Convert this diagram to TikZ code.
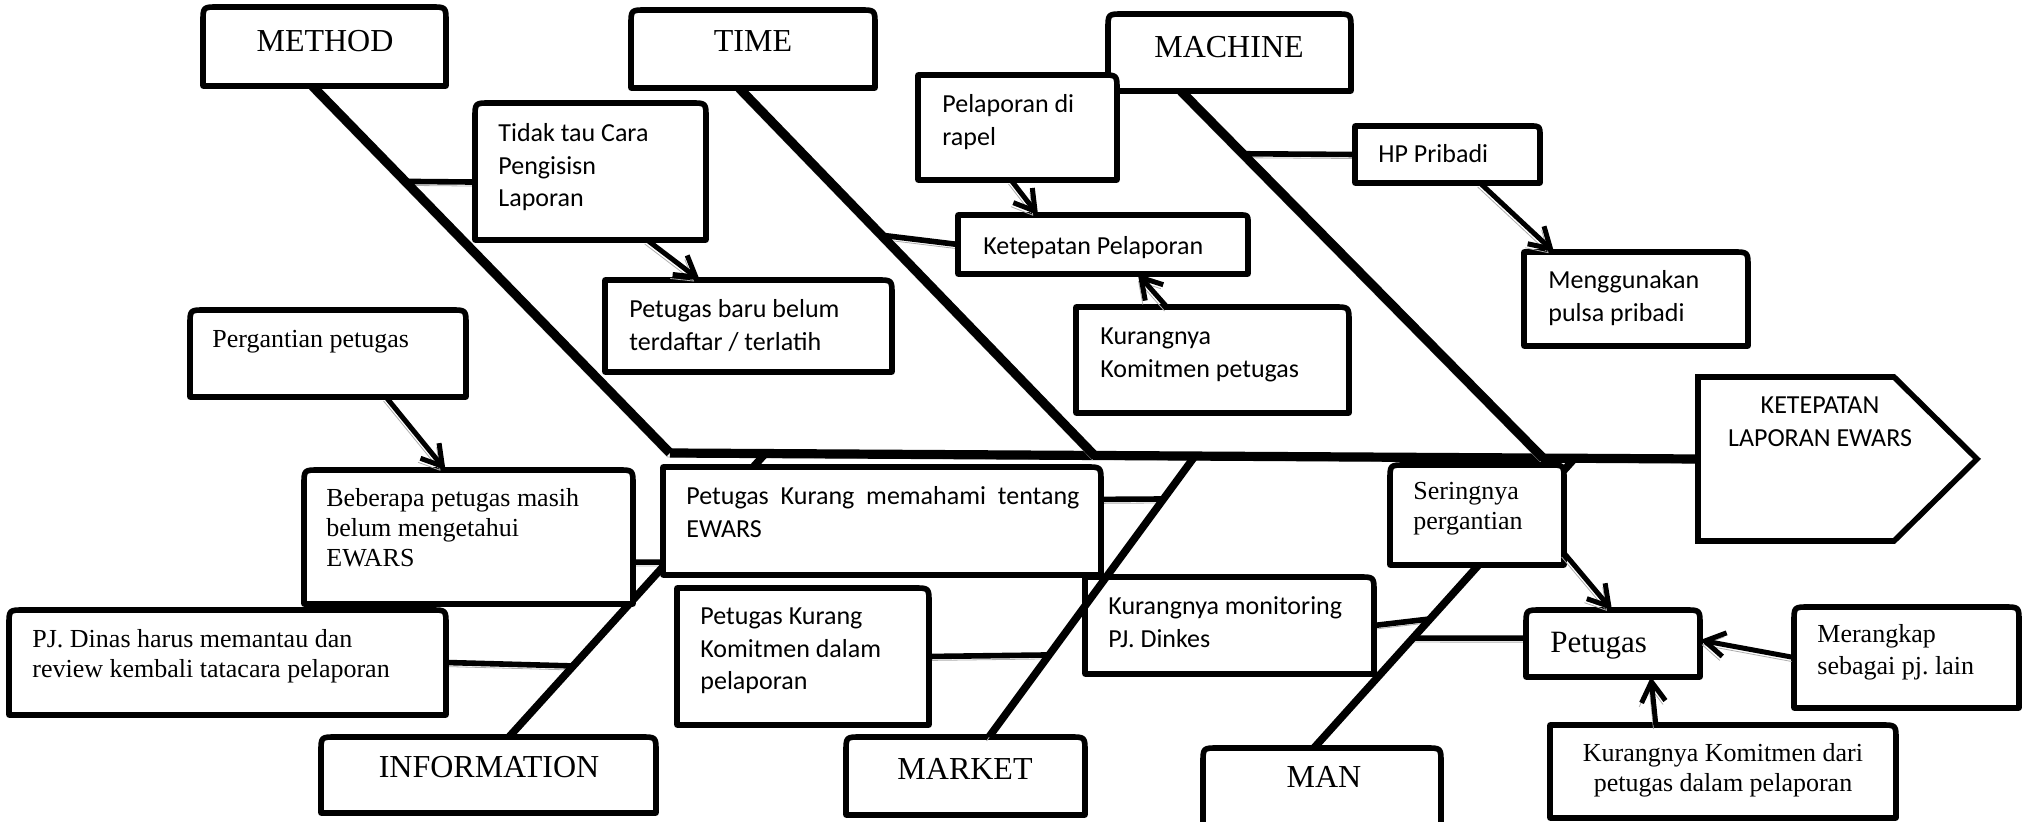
\documentclass[tikz,border=0pt]{standalone}
\usepackage{fontspec}
\setmainfont{Liberation Serif}
\newfontfamily\fSer{Liberation Serif}
\newfontfamily\fSan{Carlito}
\usetikzlibrary{calc,fit,arrows.meta}
\tikzset{
 cell/.style={inner sep=0pt,outer sep=0pt},
 boxline/.style={draw=black,fill=white,line width=2.8pt,line join=round},
 shad/.style={preaction={draw=black!32,transform canvas={shift={(-1.2pt,-2pt)}}}},
 spine/.style={line width=4.6pt,shad},
 bone/.style={line width=4.6pt,shad},
 lbone/.style={line width=3.8pt,shad},
 conn/.style={line width=2.8pt,shad},
 arr/.style={line width=2.5pt,shad,-{Straight Barb[length=10pt,width=12pt]}},
 ttl/.style={inner sep=0pt,anchor=base,font=\fSer\fontsize{16}{19}\selectfont},
 tser/.style={inner sep=0pt,anchor=base west,font=\fSer\fontsize{13}{15}\selectfont},
 tsan/.style={inner sep=0pt,anchor=base west,font=\fSan\fontsize{13}{16.25}\selectfont},
}
\newcommand\bxT[2][15]{\filldraw[boxline] (#2.south west) -- ($(#2.north west)+(0,#1)$) .. controls (#2.north west) .. ($(#2.north west)+(#1,0)$) -- ($(#2.north east)+(-#1,0)$) .. controls (#2.north east) .. ($(#2.north east)+(0,#1)$) -- (#2.south east) -- cycle;}
\newcommand\bxR[2][15]{\filldraw[boxline] (#2.south west) -- (#2.north west) -- ($(#2.north east)+(-#1,0)$) .. controls (#2.north east) .. ($(#2.north east)+(0,#1)$) -- (#2.south east) -- cycle;}
\begin{document}
\begin{tikzpicture}[x=0.5pt,y=-0.5pt]
\clip (0,0) rectangle (2025,822);
% ---------- box frames (nodes) ----------
\node[cell,fit={(203,7)(446,86)}] (method) {};
\node[cell,fit={(631,10)(875,88)}] (time) {};
\node[cell,fit={(1108,14)(1351,91)}] (mach) {};
\node[cell,fit={(475,103)(706,240)}] (tidak) {};
\node[cell,fit={(605,280)(892,372)}] (pbaru) {};
\node[cell,fit={(918,75)(1117,180)}] (rapel) {};
\node[cell,fit={(958,215)(1248,274)}] (kp) {};
\node[cell,fit={(1076,307)(1349,413)}] (kk) {};
\node[cell,fit={(1355,126)(1540,183)}] (hp) {};
\node[cell,fit={(1524,252)(1748,346)}] (mg) {};
\node[cell,fit={(190,310)(466,397)}] (pg) {};
\node[cell,fit={(304,470)(633,604)}] (bb) {};
\node[cell,fit={(663,467)(1101,575)}] (pm) {};
\node[cell,fit={(9,610)(446,715)}] (pj) {};
\node[cell,fit={(321,737)(656,813)}] (info) {};
\node[cell,fit={(677,588)(929,725)}] (pk) {};
\node[cell,fit={(846,737)(1085,815)}] (mkt) {};
\node[cell,fit={(1085,577)(1374,674)}] (km) {};
\node[cell,fit={(1203,748)(1441,845)}] (man) {};
\node[cell,fit={(1390,465)(1564,565)}] (sr) {};
\node[cell,fit={(1526,610)(1700,677)}] (pt) {};
\node[cell,fit={(1794,607)(2019,708)}] (mr) {};
\node[cell,fit={(1550,725)(1896,818)}] (kd) {};
% ---------- coordinates on the spine and bones ----------
\coordinate (jm) at (670,453);
\coordinate (ji) at (765,454);
\coordinate (jt) at (1095,456);
\coordinate (jk) at (1195,456);
\coordinate (jc) at (1543,458);
\coordinate (jn) at (1575,458);
\coordinate (kw) at (1698,459);
\coordinate (bm) at ($(method.south west)!0.45!(method.south east)$);
\coordinate (bt) at ($(time.south west)!0.443!(time.south east)$);
\coordinate (bc) at ($(mach.south west)!0.30!(mach.south east)$);
\coordinate (ie) at ($(info.north west)!0.561!(info.north east)$);
\coordinate (ke) at ($(mkt.north west)!0.598!(mkt.north east)$);
\coordinate (ne) at ($(man.north west)!0.466!(man.north east)$);
% ---------- connectors ----------
\draw[conn] ($(bm)!0.26!(jm)$) -- ($(tidak.north west)!0.577!(tidak.south west)$);
\draw[conn] ($(bt)!0.40!(jt)$) -- (kp.west);
\draw[conn] ($(bc)!0.171!(jc)$) -- (hp.west);
\draw[conn] ($(pm.north east)!0.3!(pm.south east)$) -- ($(jk)!0.153!(ke)$);
\draw[conn] ($(bb.north east)!0.687!(bb.south east)$) -- ($(ji)!0.382!(ie)$);
\draw[conn] (pj.east) -- ($(ji)!0.749!(ie)$);
\draw[conn] (pk.east) -- ($(jk)!0.708!(ke)$);
\draw[conn] (km.east) -- ($(jn)!0.555!(ne)$);
\draw[conn] ($(jn)!0.621!(ne)$) -- ($(pt.north west)!0.42!(pt.south west)$);
% ---------- bones ----------
\draw[spine] (jm) -- (kw);
\draw[bone] (bm) -- (jm);
\draw[bone] (bt) -- (jt);
\draw[bone] (bc) -- (jc);
\draw[lbone] (ji) -- (ie);
\draw[lbone] (jn) -- (ne);
% ---------- boxes ----------
\bxT{method}\bxT{time}\bxT{mach}\bxT{tidak}\bxR{pbaru}\bxR{rapel}\bxR[8]{kp}\bxR{kk}
\bxR[10]{hp}\bxR{mg}\bxT{pg}\bxT{bb}\bxR{pm}\bxT{pj}\bxT{info}\bxR{pk}\bxT{mkt}
\bxR{km}\bxT{man}\bxT{sr}\bxT{pt}\bxT{mr}\bxR{kd}
\filldraw[boxline,line join=miter] (kw |- 0,377) -- (1894,377) -- (1977,459) -- (1894,541) -- (kw |- 0,541) -- cycle;
% ---------- market bone (over the box corner) ----------
\draw[lbone] (jk) -- (ke);
% ---------- texts ----------
\node[ttl] (t-method) at (325,52) {METHOD};
\node[ttl] (t-time) at (753,52) {TIME};
\node[ttl] (t-mach) at (1229,58) {MACHINE};
\node[ttl] (t-info) at (489,778) {INFORMATION};
\node[ttl] (t-mkt) at (965,780) {MARKET};
\node[ttl] (t-man) at (1324,788) {MAN};
\node[tsan] (t-tidak) at (498,142) {\parbox[t]{150pt}{Tidak tau Cara\\Pengisisn\\Laporan}};
\node[tsan] (t-pbaru) at (629,318) {\parbox[t]{150pt}{Petugas baru belum\\terdaftar / terlatih}};
\node[tsan] (t-rapel) at (942,113) {\parbox[t]{150pt}{Pelaporan di\\rapel}};
\node[tsan] (t-kp) at (983,255) {Ketepatan Pelaporan};
\node[tsan] (t-kk) at (1100,345) {\parbox[t]{150pt}{Kurangnya\\Komitmen petugas}};
\node[tsan] (t-hp) at (1378,163) {HP Pribadi};
\node[tsan] (t-mg) at (1548,289) {\parbox[t]{150pt}{Menggunakan\\pulsa pribadi}};
\node[tsan] (t-pm) at (686,505) {\parbox[t]{250pt}{\makebox[196.5pt][s]{Petugas Kurang memahami tentang}\\EWARS}};
\node[tsan] (t-pk) at (700,625) {\parbox[t]{150pt}{Petugas Kurang\\Komitmen dalam\\pelaporan}};
\node[tsan] (t-km) at (1108,615) {\parbox[t]{150pt}{Kurangnya monitoring\\PJ. Dinkes}};
\node[tsan,anchor=base] (t-ket) at (1820,414) {\parbox[t]{150pt}{\centering KETEPATAN\\LAPORAN EWARS}};
\node[tser] (t-pg) at (212,348) {Pergantian petugas};
\node[tser] (t-bb) at (326,507) {\parbox[t]{200pt}{Beberapa petugas masih\\belum mengetahui\\EWARS}};
\node[tser] (t-pj) at (32,648) {\parbox[t]{250pt}{PJ. Dinas harus memantau dan\\review kembali tatacara pelaporan}};
\node[tser] (t-sr) at (1413,500) {\parbox[t]{150pt}{Seringnya\\pergantian}};
\node[tser,font=\fSer\fontsize{15.5}{18}\selectfont] (t-pt) at (1550,653) {Petugas};
\node[tser,font=\fSer\fontsize{13}{16}\selectfont] (t-mr) at (1817,643) {\parbox[t]{150pt}{Merangkap\\sebagai pj.\ lain}};
\node[tser,anchor=base] (t-kd) at (1723,762) {\parbox[t]{200pt}{\centering Kurangnya Komitmen dari\\petugas dalam pelaporan}};
% ---------- arrows ----------
\draw[arr] ($(tidak.south west)!0.745!(tidak.south east)$) -- ($(pbaru.north west)!0.33!(pbaru.north east)$);
\draw[arr] ($(rapel.south west)!0.467!(rapel.south east)$) -- ($(kp.north west)!0.276!(kp.north east)$);
\draw[arr] ($(kk.north west)!0.333!(kk.north east)$) -- ($(kp.south west)!0.62!(kp.south east)$);
\draw[arr] ($(hp.south west)!0.676!(hp.south east)$) -- ($(mg.north west)!0.134!(mg.north east)$);
\draw[arr] ($(pg.south west)!0.71!(pg.south east)$) -- ($(bb.north west)!0.43!(bb.north east)$);
\draw[arr] ($(sr.north east)!0.88!(sr.south east)$) -- ($(pt.north west)!0.494!(pt.north east)$);
\draw[arr] ($(mr.north west)!0.5!(mr.south west)$) -- ($(pt.north east)!0.45!(pt.south east)$);
\draw[arr] ($(kd.north west)!0.306!(kd.north east)$) -- ($(pt.south west)!0.718!(pt.south east)$);
\end{tikzpicture}
\end{document}
